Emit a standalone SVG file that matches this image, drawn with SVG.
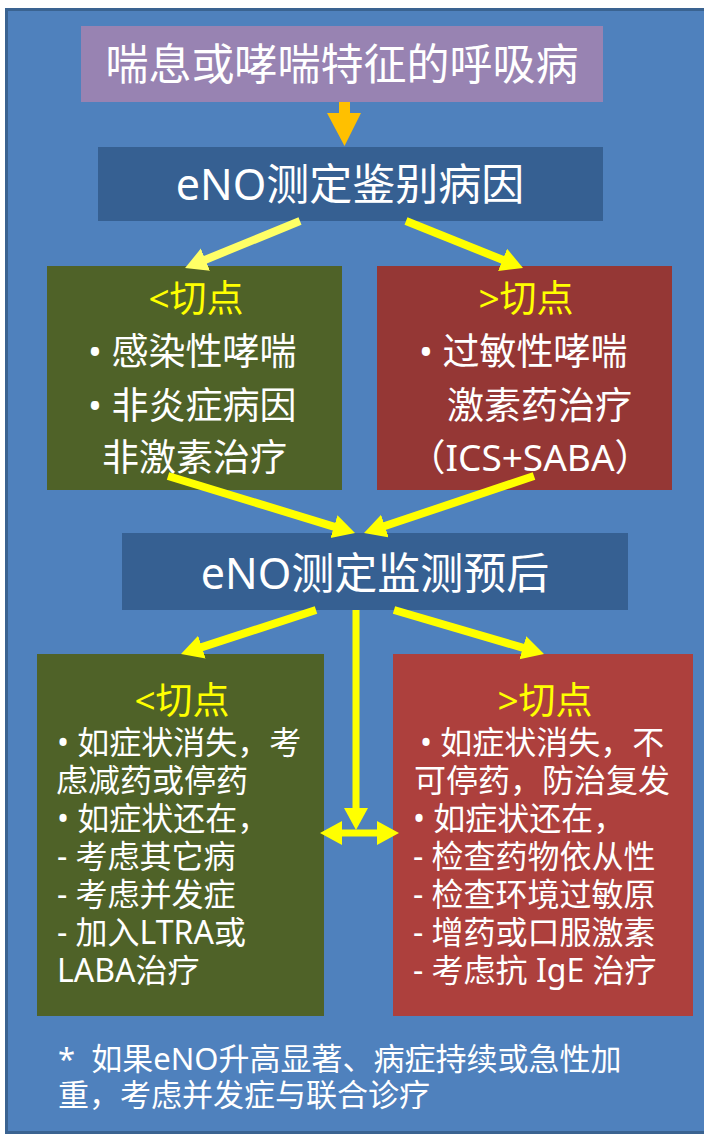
<svg xmlns="http://www.w3.org/2000/svg" width="704" height="1136" viewBox="0 0 704 1136">
<defs>
<style>
text{font-family:"Noto Sans","Noto Sans CJK SC",sans-serif;fill:#fff}
.t42{font-size:43px;text-anchor:middle}
.t37{font-size:37px}
.t32{font-size:32px}
.t30{font-size:31px}
.y{fill:#ffff00}
.c{text-anchor:middle}
.arr{stroke:#ffff00;stroke-width:8;fill:none;marker-end:url(#ah)}
.arr2{stroke:#ffff66;stroke-width:8;fill:none;marker-end:url(#ah2)}
</style>
<marker id="ah" markerUnits="userSpaceOnUse" markerWidth="24" markerHeight="26" refX="4" refY="12" orient="auto-start-reverse" viewBox="0 0 24 26"><path d="M0,0 L22,12 L0,24 z" fill="#ffff00"/></marker>
<marker id="ah2" markerUnits="userSpaceOnUse" markerWidth="24" markerHeight="26" refX="4" refY="12" orient="auto" viewBox="0 0 24 26"><path d="M0,0 L22,12 L0,24 z" fill="#ffff66"/></marker>
</defs>
<rect x="6.5" y="9.5" width="712" height="1123" fill="#4f81bd" stroke="#3a6391" stroke-width="3"/>
<g id="start">
<rect x="81" y="26" width="522" height="76" fill="#9883b2"/>
<text class="t42" x="342" y="80">喘息或哮喘特征的呼吸病</text>
</g>
<g id="diag">
<rect x="98" y="147" width="505" height="74" fill="#366092"/>
<text class="t42" x="350" y="200">eNO测定鉴别病因</text>
</g>
<g id="low1">
<rect x="47" y="266" width="295" height="224" fill="#4f6228"/>
<text class="t37 y c" x="196" y="312">&lt;切点</text>
<text class="t37" x="88" y="365">• 感染性哮喘</text>
<text class="t37" x="88" y="419">• 非炎症病因</text>
<text class="t37" x="102" y="471">非激素治疗</text>
</g>
<g id="high1">
<rect x="377" y="266" width="295" height="224" fill="#953735"/>
<text class="t37 y c" x="526" y="312">&gt;切点</text>
<text class="t37" x="419" y="365">• 过敏性哮喘</text>
<text class="t37" x="447" y="419">激素药治疗</text>
<text class="t37 c" x="530" y="471">（ICS+SABA）</text>
</g>
<g id="monitor">
<rect x="122" y="533" width="506" height="77" fill="#366092"/>
<text class="t42" x="375" y="589">eNO测定监测预后</text>
</g>
<g id="low2">
<rect x="37" y="654" width="287" height="362" fill="#4f6228"/>
<text class="t37 y c" x="182" y="714">&lt;切点</text>
<text class="t32" x="57" y="754">• 如症状消失，考</text>
<text class="t32" x="56" y="792">虑减药或停药</text>
<text class="t32" x="57" y="830">• 如症状还在，</text>
<text class="t32" x="57" y="868">- 考虑其它病</text>
<text class="t32" x="57" y="906">- 考虑并发症</text>
<text class="t32" x="57" y="944">- 加入LTRA或</text>
<text class="t32" x="57" y="982">LABA治疗</text>
</g>
<g id="high2">
<rect x="393" y="654" width="300" height="362" fill="#ad403d"/>
<text class="t37 y c" x="545" y="714">&gt;切点</text>
<text class="t32" x="420" y="754">• 如症状消失，不</text>
<text class="t32" x="414" y="792">可停药，防治复发</text>
<text class="t32" x="413" y="830">• 如症状还在，</text>
<text class="t32" x="413" y="868">- 检查药物依从性</text>
<text class="t32" x="413" y="906">- 检查环境过敏原</text>
<text class="t32" x="413" y="944">- 增药或口服激素</text>
<text class="t32" x="413" y="982">- 考虑抗 IgE 治疗</text>
</g>
<g id="note">
<text class="t30" x="58" y="1070" xml:space="preserve">*  如果eNO升高显著、病症持续或急性加</text>
<text class="t30" x="58" y="1106">重，考虑并发症与联合诊疗</text>
</g>
<g id="connectors">
<polygon points="339,102 350,102 350,113 361,113 344.5,146 327,113 339,113" fill="#ffc000"/>
<line class="arr2" x1="300" y1="221" x2="201.7" y2="261.2"/>
<line class="arr" x1="406" y1="221" x2="506.3" y2="261.3"/>
<line class="arr" x1="168" y1="476" x2="337.8" y2="527.8"/>
<line class="arr" x1="534" y1="476" x2="381.1" y2="527.3"/>
<line class="arr" x1="316" y1="610" x2="198.1" y2="648.4"/>
<line class="arr" x1="394" y1="610" x2="526.7" y2="648.9"/>
<line class="arr" style="stroke-width:7" x1="356" y1="610" x2="356" y2="812"/>
<line class="arr" style="stroke-width:7;marker-start:url(#ah)" x1="338" y1="833" x2="381" y2="833"/>
</g>
</svg>
